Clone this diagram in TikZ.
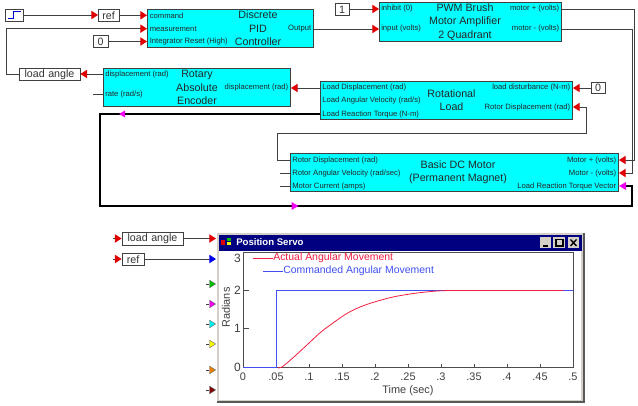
\documentclass[tikz,border=0pt]{standalone}
\usepackage{fontspec}
\setmainfont{Liberation Sans}
\usetikzlibrary{arrows.meta,fit,calc}
\definecolor{blockcyan}{HTML}{00FFFF}
\definecolor{wiregray}{HTML}{404040}
\definecolor{pinred}{HTML}{E00000}
\definecolor{pinorange}{HTML}{E88000}
\definecolor{pingreen}{HTML}{00C000}
\definecolor{pindark}{HTML}{800000}
\definecolor{pinmag}{HTML}{F000F0}
\definecolor{pincyan}{HTML}{00F0F0}
\definecolor{pinyellow}{HTML}{F8F800}
\definecolor{pinblue}{HTML}{0000F0}
\definecolor{wingray}{HTML}{D4D0C8}
\definecolor{titlenavy}{HTML}{000080}
\definecolor{plotred}{HTML}{F02040}
\definecolor{plotblue}{HTML}{4050F0}
\tikzset{
  x=0.75pt,y=-0.75pt,
  block/.style={draw=black!75,line width=0.7pt,fill=blockcyan,inner sep=0pt},
  valbox/.style={draw=black!75,line width=0.6pt,fill=white,inner sep=0pt},
  title/.style={font=\fontsize{8}{10}\selectfont,text=black!85,align=center,inner sep=0pt},
  portl/.style={font=\fontsize{5.75}{6}\selectfont,text=black!85,anchor=west,inner sep=0pt},
  portr/.style={font=\fontsize{5.75}{6}\selectfont,text=black!85,anchor=east,inner sep=0pt},
  valtext/.style={font=\fontsize{8}{9}\selectfont,text=black!80,inner sep=0pt},
  wire/.style={draw=wiregray,line width=0.7pt},
  thickwire/.style={draw=black,line width=1.7pt},
  pin/.style={-{Triangle[length=5pt,width=6.2pt,color=#1]}},
  pinline/.style={-{Triangle[length=5pt,width=6.2pt,fill=#1,color=black!60,line width=0.3pt]}},
  axislabel/.style={font=\fontsize{8.2}{9}\selectfont,text=black!75,inner sep=0pt},
  legendtext/.style={font=\fontsize{7.85}{9}\selectfont,inner sep=0pt,anchor=west},
}
\begin{document}
\begin{tikzpicture}
\useasboundingbox (0,0) rectangle (638,406);
% --- top blocks
\node[block,fit={(147,9) (313,47)}] (pid) {};
\node[title] (pidt) at (258,28.5) {Discrete\\PID\\Controller};
\node[portl] (pid1) at (149.5,15.3) {command};
\node[portl] (pid2) at (149.5,28.7) {measurement};
\node[portl] (pid3) at (149.5,41.8) {Integrator Reset (High)};
\node[portr] (pid4) at (311.5,28.7) {Output};
\node[block,fit={(379,2) (561,41)}] (pwm) {};
\node[title] (pwmt) at (465,22) {PWM Brush\\Motor Amplifier\\2 Quadrant};
\node[portl] (pwm1) at (381,9) {inhibit (0)};
\node[portl] (pwm2) at (381,29) {input (volts)};
\node[portr] (pwm3) at (559.5,9) {motor + (volts)};
\node[portr] (pwm4) at (559.5,29) {motor - (volts)};
\node[block,fit={(103,68) (290,106)}] (enc) {};
\node[title] (enct) at (197,87.5) {Rotary\\Absolute\\Encoder};
\node[portl] (enc1) at (105,74.5) {displacement (rad)};
\node[portl] (enc2) at (105,94.5) {rate (rad/s)};
\node[portr] (enc3) at (288.5,88) {displacement (rad)};
\node[block,fit={(320,81) (572,119)}] (rot) {};
\node[title] (rott) at (451.5,100.5) {Rotational\\Load};
\node[portl] (rot1) at (322,88) {Load Displacement (rad)};
\node[portl] (rot2) at (322,101) {Load Angular Velocity (rad/s)};
\node[portl] (rot3) at (322,114.3) {Load Reaction Torque (N-m)};
\node[portr] (rot4) at (570.5,88) {load disturbance (N-m)};
\node[portr] (rot5) at (570.5,107.5) {Rotor Displacement (rad)};
\node[block,fit={(290,153) (618,191)}] (mot) {};
\node[title] (mott) at (458,172.5) {Basic DC Motor\\(Permanent Magnet)};
\node[portl] (mot1) at (292,160.3) {Rotor Displacement (rad)};
\node[portl] (mot2) at (292,173.3) {Rotor Angular Velocity (rad/sec)};
\node[portl] (mot3) at (292,186.5) {Motor Current (amps)};
\node[portr] (mot4) at (616.5,160.3) {Motor + (volts)};
\node[portr] (mot5) at (616.5,173.3) {Motor - (volts)};
\node[portr] (mot6) at (616.5,186.5) {Load Reaction Torque Vector};
% --- source and value boxes
\node[valbox,fit={(5,9) (23,21)}] (step) {};
\draw[draw=blue!80!black,line width=0.6pt] (7.5,18.5) -- (13,18.5) -- (13,11.5) -- (21,11.5);
\node[valbox,fit={(98,9) (119,21)}] (refbox) {};
\node[valtext] (reft) at (108.5,15.5) {ref};
\node[valbox,fit={(93,35) (108,47)}] (zero1) {};
\node[valtext] (zero1t) at (100.5,41.5) {0};
\node[valbox,fit={(19,68) (80,80)}] (la) {};
\node[valtext] (lat) at (49.5,74.5) {load\,\,angle};
\node[valbox,fit={(335,3) (349,15)}] (one) {};
\node[valtext] (onet) at (342,9.5) {1};
\node[valbox,fit={(591,82) (605,93)}] (zero2) {};
\node[valtext] (zero2t) at (598,88) {0};
% --- named port points
\coordinate (pidin1) at (147,15.3);
\coordinate (pidin2) at (147,28.7);
\coordinate (pidin3) at (147,41.5);
\coordinate (pidout) at (313,29);
\coordinate (pwmin1) at (379,9);
\coordinate (pwmin2) at (379,29);
\coordinate (pwmout1) at (561,9);
\coordinate (pwmout2) at (561,29);
\coordinate (encin) at (291,88);
\coordinate (encout) at (103,74);
\coordinate (rotout) at (320,88);
\coordinate (rotin1) at (573,88);
\coordinate (rotin2) at (573,107);
\coordinate (rottq) at (320,114);
\coordinate (motrd) at (290,160);
\coordinate (motin1) at (619,160);
\coordinate (motin2) at (619,173);
\coordinate (mottq) at (619,186);
% --- connectors
\draw[wire,pin=pinred] (step.east |- 0,15) -- (98,15);
\draw[wire,pin=pinred] (refbox.east |- 0,15.3) -- (pidin1);
\draw[wire,pin=pinred] (la.west |- 0,74) -| (6,28.7) -- (pidin2);
\draw[wire,pin=pinred] (zero1.east |- 0,41.5) -- (pidin3);
\draw[wire,pin=pinred] (encout) -- (la.east |- 0,74);
\draw[wire,pin=pinred] (pidout) -- (pwmin2);
\draw[wire,pin=pinred] (one.east |- 0,9) -- (pwmin1);
\draw[wire,pin=pinred] (rotout) -- (encin);
\draw[wire,pin=pinred] (zero2.west |- 0,88) -- (rotin1);
\draw[wire,pin=pinred] (motrd) -| (277,133) -| (586,107) -- (rotin2);
\draw[wire,pin=pinred] (pwmout1) -| (634,160) -- (motin1);
\draw[wire,pin=pinred] (pwmout2) -| (632,173) -- (motin2);
\draw[wire] (103,94.5) -- (93,94.5);
\draw[wire] (290,173) -- (280,173);
\draw[wire] (290,186) -- (280,186);
\draw[thickwire] (rottq) -- (100,114) -- (100,206) -- (632,206) -- (632,186) -- (626,186);
\fill[pinmag] (619,186) -- (626,182) -- (626,190) -- cycle;
\fill[pinmag] (291.5,202) -- (298.5,206) -- (291.5,210) -- cycle;
\fill[pinmag] (119,114) -- (125,110.5) -- (125,117.5) -- cycle;
% --- scope window inputs
\node[valbox,fit={(122,232) (183,245)}] (la2) {};
\node[valtext] (la2t) at (152.5,238.5) {load\,\,angle};
\node[valbox,fit={(122,253) (144,265)}] (ref2) {};
\node[valtext] (ref2t) at (133,259.5) {ref};
\coordinate (w1) at (216,238.5);
\coordinate (w2) at (216,259);
\draw[wire,pin=pinred] (113,238.5) -- (la2.west |- 0,238.5);
\draw[wire,pin=pinred] (113,259) -- (ref2.west |- 0,259);
\draw[wire,pin=pinred] (la2.east |- 0,238.5) -- (w1);
\draw[wire,pin=pinblue] (ref2.east |- 0,259) -- (w2);
\draw[wire,pinline=pingreen] (206,284) -- (216,284);
\draw[wire,pinline=pinmag] (206,304) -- (216,304);
\draw[wire,pinline=pincyan] (206,324) -- (216,324);
\draw[wire,pinline=pinyellow] (206,344) -- (216,344);
\draw[wire,pinline=pinorange] (206,370) -- (216,370);
\draw[wire,pinline=pindark] (206,390) -- (216,390);
% --- window
\fill[wingray] (217,233) rectangle (584,402);
\draw[black!65,line width=0.9pt] (584,233) -- (584,402) -- (217,402);
\fill[white] (219,250) rectangle (581,400);
\fill[titlenavy] (219,235) rectangle (582,251);
\fill[pinred] (221,240) rectangle (225,245);
\fill[pingreen] (227,238) rectangle (231,241);
\fill[pinyellow] (227,242) rectangle (231,245);
\node[font=\bfseries\fontsize{7.2}{8}\selectfont,text=white,anchor=west,inner sep=0pt] (wt) at (236,242.5) {Position Servo};
\foreach \a/\b in {540/551,553/565,568/579}{\fill[wingray] (\a,237) rectangle (\b,248);}
\draw[black,line width=0.8pt] (543,246) -- (548,246);
\draw[black,line width=0.8pt] (556,239.5) rectangle (563,246);
\draw[black,line width=1pt] (570.5,239.5) -- (576.5,246) (576.5,239.5) -- (570.5,246);
% --- plot
\draw[black!70,line width=0.7pt] (243,252) rectangle (573,367);
\foreach \y in {290,328.5}{
  \draw[black!70,line width=0.6pt] (243,\y) -- (249,\y);
}
\foreach \v/\y in {3/258,2/290,1/328.5,0/367}{
  \node[axislabel,font=\fontsize{9}{10}\selectfont] (yl\v) at (237.5,\y) {\v};
}
\foreach \l/\px in {0/243,.05/276,.1/309,.15/342,.2/375,.25/408,.3/441,.35/474,.4/507,.45/540,.5/573}{
  \draw[black!70,line width=0.6pt] (\px,363.5) -- (\px,367);
  \node[axislabel] (xl\px) at (\px,376.5) {\l};
}
\node[axislabel] [rotate=90] (yt) at (226,307.5) {Radians};
\node[axislabel] (xt) at (408,390.5) {Time (sec)};
\draw[plotblue,line width=0.6pt] (243,367) -- (276,367) -- (276,290) -- (573,290);
\draw[plotred,line width=0.6pt] plot[smooth,tension=0.55] coordinates {(278,367.5) (282,367) (295,356) (309,343) (321,332) (333,323) (346,314) (360,307) (376,301.5) (393,297) (410,294) (426,292) (443,290.7) (470,290.5) (563,290.5)};
\draw[plotred,line width=0.6pt] (253,258) -- (273,258);
\node[legendtext,text=plotred] (lg1) at (273,258) {Actual Angular Movement};
\draw[plotblue,line width=0.6pt] (263,271) -- (283,271);
\node[legendtext,text=plotblue] (lg2) at (283,271) {Commanded Angular Movement};
\end{tikzpicture}
\end{document}
